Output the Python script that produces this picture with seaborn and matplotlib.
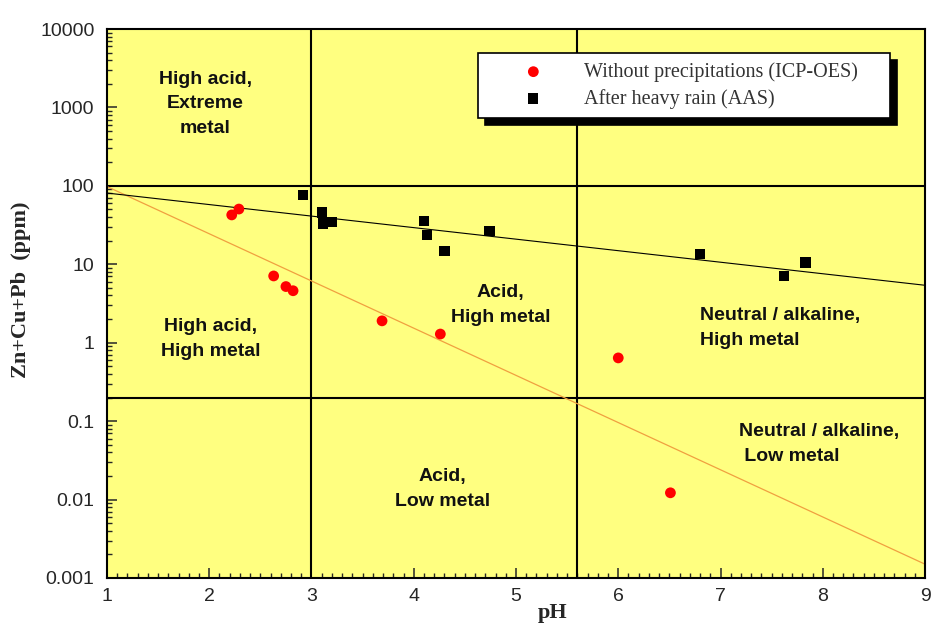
import numpy as np
import pandas as pd
import matplotlib
matplotlib.use("Agg")
import matplotlib.pyplot as plt
import matplotlib.patches as mpatches
import seaborn as sns

# pH / metal classification (Ficklin style)
ph_rain_free = [2.22, 2.29, 2.63, 2.75, 2.82, 3.69, 4.26, 6.00, 6.51]
metal_rain_free = [42.6, 50.6, 7.1, 5.2, 4.6, 1.9, 1.29, 0.64, 0.0122]

ph_heavy_rain = [2.92, 3.10, 3.11, 3.20, 4.10, 4.13, 4.30, 4.74, 6.80, 7.62, 7.83]
metal_heavy_rain = [76, 45.7, 33, 34.8, 35.9, 23.5, 14.9, 26.7, 13.5, 7.1, 10.5]

# trend lines (ends)
trend_ph = [1, 9]
trend_rain_free = [98, 0.0015]
trend_heavy_rain = [81, 5.4]

# class boundaries
ph_bounds = [3, 5.6]
metal_bounds = [100, 0.2]

labels_series = ["Without precipitations (ICP-OES)", "After heavy rain (AAS)"]

zones = [
    ("High acid,\nExtreme\nmetal", 1.96, 1107, "center"),
    ("High acid,\nHigh metal", 2.01, 1.11, "center"),
    ("Acid,\nHigh metal", 4.85, 3.03, "center"),
    ("Acid,\nLow metal", 4.28, 0.0136, "center"),
    ("Neutral / alkaline,\nHigh metal", 6.80, 1.54, "left"),
    ("Neutral / alkaline,\n Low metal", 7.18, 0.051, "left"),
]

sns.set_style("ticks")
plt.rcParams["font.family"] = ["Liberation Sans", "DejaVu Sans"]

fig = plt.figure(figsize=(9.31, 6.25), dpi=100)
ax = fig.add_axes([0.1149, 0.0752, 0.8787, 0.8784])
ax.set_facecolor("#ffff80")

df1 = pd.DataFrame({"pH": ph_rain_free, "metal": metal_rain_free})
df2 = pd.DataFrame({"pH": ph_heavy_rain, "metal": metal_heavy_rain})

sns.lineplot(x=trend_ph, y=trend_rain_free, ax=ax, color="#f0a040", lw=0.9, zorder=2)
sns.lineplot(x=trend_ph, y=trend_heavy_rain, ax=ax, color="black", lw=0.8, zorder=2)

for v in ph_bounds:
    ax.axvline(v, color="black", lw=1.5, zorder=1)
for h in metal_bounds:
    ax.axhline(h, color="black", lw=1.5, zorder=1)

sns.scatterplot(data=df1, x="pH", y="metal", ax=ax, color="#ff0000", marker="o",
                s=60, edgecolor="none", label=labels_series[0], zorder=3)
sns.scatterplot(data=df2, x="pH", y="metal", ax=ax, color="black", marker="s",
                s=55, edgecolor="none", label=labels_series[1], zorder=3)

ax.set_yscale("log")
ax.set_xlim(1, 9)
ax.set_ylim(0.001, 10000)
ax.set_xticks(range(1, 10))
ax.set_xticks(np.arange(1, 9.01, 0.1), minor=True)
ax.set_yticks([0.001, 0.01, 0.1, 1, 10, 100, 1000, 10000])
ax.set_yticklabels(["0.001", "0.01", "0.1", "1", "10", "100", "1000", "10000"])
ax.tick_params(which="major", direction="in", length=7, width=1.1, labelsize=14,
               top=False, right=False, pad=7)
ax.tick_params(which="minor", direction="in", length=3.5, width=1,
               top=False, right=False)
ax.tick_params(axis="y", pad=9)
for sp in ax.spines.values():
    sp.set_color("black")
    sp.set_linewidth(1.5)

for txt, x, y, ha in zones:
    ax.text(x, y, txt, ha=ha, va="center", multialignment=ha, fontsize=14,
            fontweight="bold", linespacing=1.6, color="#111111", zorder=4)

ax.set_xlabel("pH", family="Liberation Serif", fontweight="bold", fontsize=16)
ax.xaxis.set_label_coords(0.545, -0.046)
ax.set_ylabel("Zn+Cu+Pb  (ppm)", family="Liberation Serif", fontweight="bold", fontsize=16)
ax.yaxis.set_label_coords(-0.093, 0.525)

leg = ax.legend(loc="upper left", bbox_to_anchor=(0.4535, 0.956, 0.504, 0.0),
                mode="expand", frameon=True, fancybox=False, edgecolor="black",
                framealpha=1, facecolor="white", borderpad=0.45, handlelength=4.6,
                handletextpad=0.2, labelspacing=0.35, borderaxespad=0,
                prop={"family": "Liberation Serif", "size": 14.5}, labelcolor="#333333")
leg.get_frame().set_linewidth(1.2)
leg.set_zorder(6)

fig.canvas.draw()
shadow = mpatches.Shadow(leg.legendPatch, 5, -5, color="black", alpha=1)
shadow.set_zorder(5.5)
ax.add_artist(shadow)

fig.savefig("out.png", dpi=100, facecolor="white")
